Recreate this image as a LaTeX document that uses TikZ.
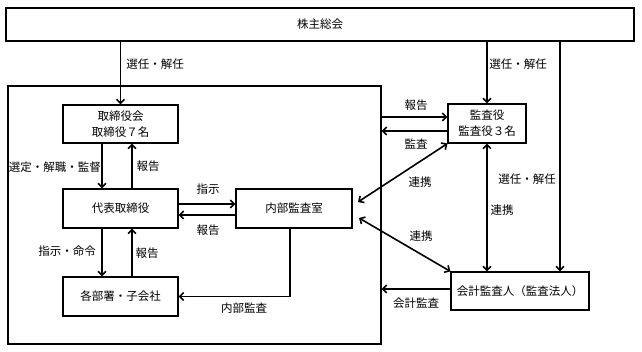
\documentclass[tikz,border=0pt]{standalone}
\usepackage{fontspec}
\setmainfont{Noto Sans CJK JP}
\usetikzlibrary{arrows.meta,calc}
\begin{document}
\begin{tikzpicture}[x=1pt,y=-1pt,
  box/.style={draw,line width=1.1pt,inner sep=0pt,align=center,font=\fontsize{11.5}{16}\selectfont},
  arr/.style={line width=1.6pt,-{Straight Barb[length=4pt,width=8pt]}},
  darr/.style={line width=1.6pt,{Straight Barb[length=4pt,width=8pt]}-{Straight Barb[length=4pt,width=8pt]}},
  lbl/.style={font=\fontsize{11.5}{12}\selectfont,inner sep=0pt},
]
\useasboundingbox[fill=white] (0,0) rectangle (642,352);
% boxes
\node[box,minimum width=628pt,minimum height=33pt] (top) at (320,24.5) {株主総会};
\node[box,minimum width=373pt,minimum height=258pt] (outer) at (194.5,215) {};
\node[box,minimum width=115pt,minimum height=38pt] (kt) at (120.5,124) {取締役会\\取締役７名};
\node[box,minimum width=115pt,minimum height=39pt] (dh) at (120.5,208.5) {代表取締役};
\node[box,minimum width=116pt,minimum height=39pt] (nb) at (294,208.5) {内部監査室};
\node[box,minimum width=115pt,minimum height=39pt] (bs) at (120.5,296.5) {各部署・子会社};
\node[box,minimum width=78pt,minimum height=39pt] (ka) at (487,123.5) {監査役\\監査役３名};
\node[box,minimum width=138pt,minimum height=38pt] (ak) at (520,291) {会計監査人（監査法人）};
% helper coordinates
\coordinate (xr) at (560,0);
\coordinate (xa) at (102,0);
\coordinate (xb) at (132,0);
\coordinate (ya) at (0,204);
\coordinate (yb) at (0,215);
\coordinate (ia) at (290,297);
\coordinate (yc) at (0,117);
\coordinate (yd) at (0,131);
\coordinate (ye) at (0,289);
\coordinate (c1) at (358,202);
\coordinate (c2) at (359,218);
% connectors
\draw[arr] (top.south -| kt.north) -- (kt.north);
\draw[arr] (top.south -| ka.north) -- (ka.north);
\draw[arr] (top.south -| xr) -- (ak.north -| xr);
\draw[arr] (kt.south -| xa) -- (dh.north -| xa);
\draw[arr] (dh.north -| xb) -- (kt.south -| xb);
\draw[arr] (dh.south -| xa) -- (bs.north -| xa);
\draw[arr] (bs.north -| xb) -- (dh.south -| xb);
\draw[arr] (dh.east |- ya) -- (nb.west |- ya);
\draw[arr] (nb.west |- yb) -- (dh.east |- yb);
\draw[arr] (nb.south -| ia) |- (bs.east);
\draw[arr] (outer.east |- yc) -- (ka.west |- yc);
\draw[arr] (ka.west |- yd) -- (outer.east |- yd);
\draw[arr] (ak.west |- ye) -- (outer.east |- ye);
\draw[darr] (ka.south west) -- (c1);
\draw[darr] (ak.north west) -- (c2);
\draw[darr] (ka.south) -- (ak.north -| ka.south);
% labels
\node[lbl] (l1) at (155,64) {選任・解任};
\node[lbl] (l2) at (518,64) {選任・解任};
\node[lbl] (l3) at (55,167) {選定・解職・監督};
\node[lbl] (l4) at (148,166) {報告};
\node[lbl] (l5) at (208,189) {指示};
\node[lbl] (l6) at (208,230) {報告};
\node[lbl] (l7) at (67,251) {指示・命令};
\node[lbl] (l8) at (147,253) {報告};
\node[lbl] (l9) at (244,308) {内部監査};
\node[lbl] (l10) at (416,105) {報告};
\node[lbl] (l11) at (416,144) {監査};
\node[lbl] (l12) at (420,182) {連携};
\node[lbl] (l13) at (527,179) {選任・解任};
\node[lbl] (l14) at (502,210) {連携};
\node[lbl] (l15) at (421,236) {連携};
\node[lbl] (l16) at (416,303) {会計監査};
\end{tikzpicture}
\end{document}
